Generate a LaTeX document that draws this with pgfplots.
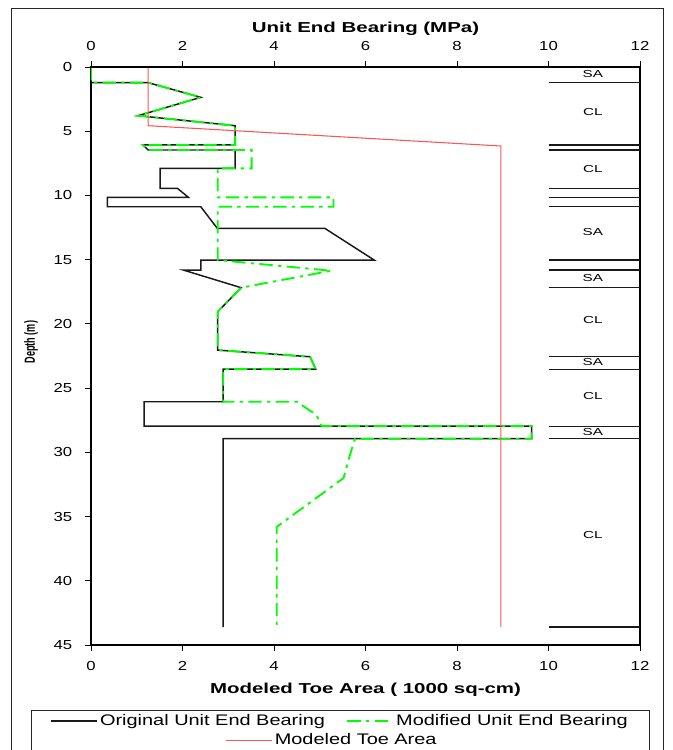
\documentclass[border=0pt]{standalone}
\usepackage{fontspec}
\setmainfont{Liberation Sans}
\newfontfamily\tickfont{Liberation Sans}[FakeStretch=1.28]
\newfontfamily\titfont{Liberation Sans}[FakeStretch=1.42]
\newfontfamily\yfont{Liberation Sans}[FakeStretch=0.62]
\newfontfamily\legfont{Liberation Sans}[FakeStretch=1.3]
\newfontfamily\soilfont{Liberation Sans}[FakeStretch=1.5]
\usepackage{pgfplots}
\pgfplotsset{compat=1.18}
\definecolor{ggreen}{RGB}{0,255,0}
\definecolor{rred}{RGB}{250,85,85}
\definecolor{bblack}{RGB}{25,25,25}
\pgfplotstableread{
x y
0 0
0 1.22
1.25 1.22
2.4 2.36
1.03 3.79
3.15 4.57
3.15 6.07
1.14 6.07
1.25 6.46
3.15 6.46
3.15 7.89
1.51 7.89
1.51 9.45
1.89 9.45
2.13 10.15
0.36 10.15
0.36 10.88
2.4 10.88
2.76 12.56
5.11 12.56
6.19 15.03
2.4 15.03
2.4 15.81
2.02 15.81
3.28 17.18
2.77 19.05
2.77 22.04
4.79 22.56
4.91 23.52
2.89 23.52
2.89 26.06
1.16 26.06
1.16 27.96
9.63 27.96
9.63 28.94
2.89 28.94
2.89 43.6
}\original
\pgfplotstableread{
x y
0 0
0 1.22
1.25 1.22
2.4 2.36
1.03 3.79
3.15 4.57
3.15 6.07
1.14 6.07
1.25 6.46
3.51 6.46
3.51 7.89
2.77 7.89
2.77 10.15
5.3 10.15
5.3 10.88
2.77 10.88
2.77 15.03
5.25 15.86
3.28 17.18
2.77 19.05
2.77 22.04
4.79 22.56
4.91 23.52
2.89 23.52
2.89 26.06
4.5 26.06
4.93 27.1
5.04 27.96
9.63 27.96
9.63 28.94
5.77 28.94
5.66 30.2
5.52 32.0
4.06 35.8
4.06 43.6
}\modified
\pgfplotstableread{
x y
1.25 0
1.25 4.57
8.96 6.15
8.96 43.6
}\toe
\pgfplotstableread{
x y
10 1.22
12 1.22
nan nan
10 6.07
12 6.07
nan nan
10 6.46
12 6.46
nan nan
10 9.45
12 9.45
nan nan
10 10.15
12 10.15
nan nan
10 10.88
12 10.88
nan nan
10 15.03
12 15.03
nan nan
10 15.81
12 15.81
nan nan
10 17.18
12 17.18
nan nan
10 22.56
12 22.56
nan nan
10 23.52
12 23.52
nan nan
10 27.96
12 27.96
nan nan
10 28.94
12 28.94
nan nan
10 43.6
12 43.6
}\layers
\begin{document}
\begin{tikzpicture}
\path[use as bounding box] (0,0) rectangle (504.75pt,-562.5pt);
\clip (0,0) rectangle (504.75pt,-562.5pt);
\draw[line width=0.75pt, black!85] (8.25pt,-6pt) rectangle (497.25pt,-600pt);
\draw[line width=0.75pt, black!85] (23.25pt,-532.5pt) rectangle (486.75pt,-600pt);
\pgfplotsset{
  common/.style={
    at={(68.25pt,-50.25pt)}, anchor=north west,
    scale only axis, width=411.75pt, height=433.5pt,
    xmin=0, xmax=12, ymin=0, ymax=45, y dir=reverse,
    xtick={0,2,...,12},
    tick align=outside, major tick length=4.5pt,
    tick style={black, line width=0.7pt},
    /pgf/number format/assume math mode=true,
    legend image code/.code={\draw[##1] (0pt,0pt) -- (34pt,0pt);},
  }
}
\begin{axis}[common,
  ytick={0,5,...,45},
  xtick pos=left, ytick pos=left,
  axis line style={line width=1.3pt, black},
  xticklabel style={font=\tickfont\fontsize{9.8}{10}\selectfont, yshift=-4.5pt},
  yticklabel style={font=\tickfont\fontsize{9.8}{10}\selectfont, xshift=-6pt},
  xlabel={Modeled Toe Area ( 1000 sq-cm)},
  xlabel style={font=\titfont\bfseries\fontsize{10.8}{12}\selectfont, at={(axis description cs:0.5,-0.0779)}, anchor=center},
  ylabel={\yfont\bfseries\fontsize{11}{12}\selectfont Depth (m)},
  ylabel style={at={(axis description cs:-0.109,0.524)}, anchor=center},
  legend columns=2,
  legend style={at={(axis description cs:0.4545,-0.1315)}, anchor=center, draw=none, fill=none,
    font=\legfont\fontsize{11.5}{13}\selectfont,
    /tikz/every even column/.append style={column sep=14pt}},
]
\addplot[bblack, line width=1.1pt, line join=miter] table[x=x,y=y] {\original};
\addlegendentry{Original Unit End Bearing}
\addplot[ggreen, line width=1.4pt, dash pattern=on 10pt off 4pt on 2.5pt off 4pt] table[x=x,y=y] {\modified};
\addlegendentry{Modified Unit End Bearing}
\addplot[rred, line width=0.8pt, forget plot] table[x=x,y=y] {\toe};
\addplot[bblack, line width=0.9pt, forget plot, unbounded coords=jump] table[x=x,y=y] {\layers};
\begin{scope}[font=\soilfont\fontsize{7.6}{8}\selectfont]
\node at (axis cs:10.97,0.55) {SA};
\node at (axis cs:10.97,3.5) {CL};
\node at (axis cs:10.97,7.94) {CL};
\node at (axis cs:10.97,12.85) {SA};
\node at (axis cs:10.97,16.43) {SA};
\node at (axis cs:10.97,19.7) {CL};
\node at (axis cs:10.97,22.97) {SA};
\node at (axis cs:10.97,25.6) {CL};
\node at (axis cs:10.97,28.4) {SA};
\node at (axis cs:10.97,36.4) {CL};
\end{scope}
\end{axis}
\begin{axis}[common,
  axis x line*=top, axis y line=none, ytick=\empty,
  axis line style={line width=1.3pt, black},
  xticklabel style={font=\tickfont\fontsize{9.8}{10}\selectfont, yshift=4pt},
  xlabel={Unit End Bearing (MPa)},
  xlabel style={font=\titfont\bfseries\fontsize{10.8}{12}\selectfont, at={(axis description cs:0.5,1.066)}, anchor=center},
  legend style={at={(axis description cs:0.4399,-0.1644)}, anchor=center, draw=none, fill=none,
    font=\legfont\fontsize{11.5}{13}\selectfont},
]
\addlegendimage{rred, line width=0.8pt}
\addlegendentry{Modeled Toe Area}
\end{axis}
\end{tikzpicture}
\end{document}
